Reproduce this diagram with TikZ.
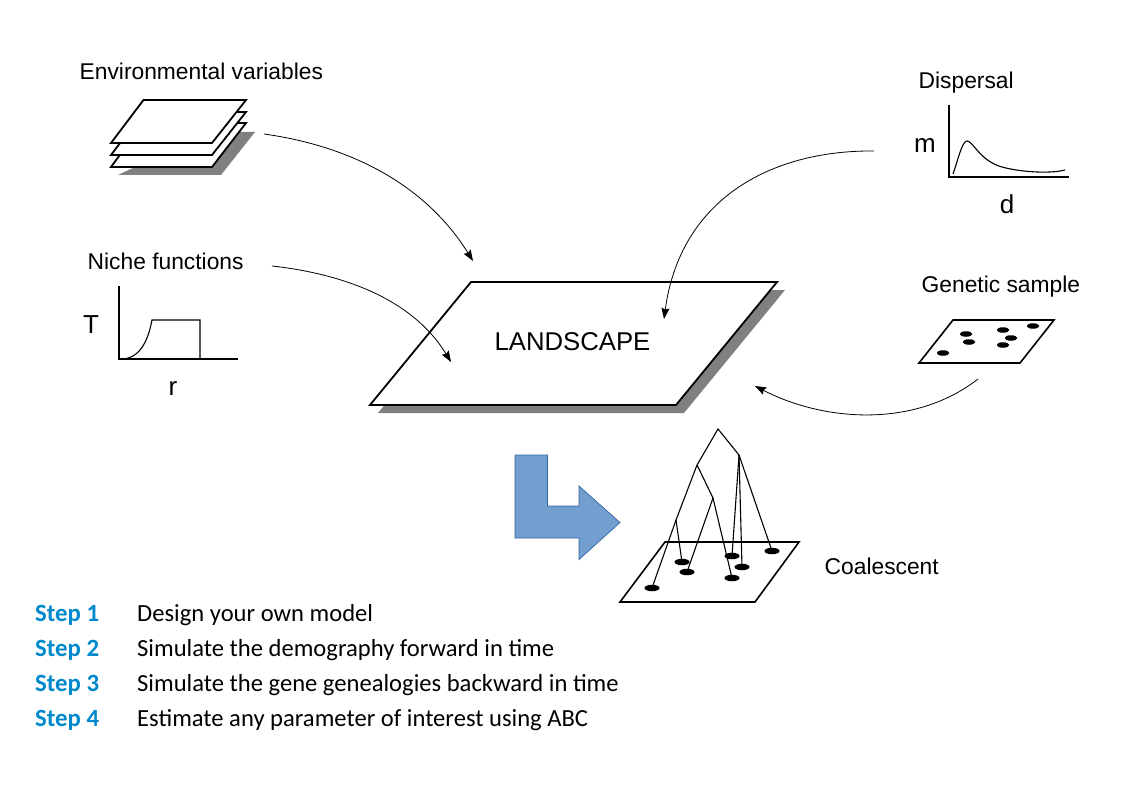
\documentclass[tikz,border=0pt]{standalone}
\usepackage{fontspec}
\setmainfont{Liberation Sans}
\newfontfamily\stepfont{Carlito}
\definecolor{stepblue}{HTML}{0088CC}
\definecolor{arrowblue}{HTML}{729FCF}
\definecolor{arrowedge}{HTML}{3465A4}
\definecolor{shadowgrey}{HTML}{808080}
\usetikzlibrary{arrows.meta,shapes.geometric}
\tikzset{
  x=1pt,y=-1pt,
  lbl/.style={anchor=base west,inner sep=0pt,font=\fontsize{22.8}{26}\selectfont,text=black},
  axislbl/.style={anchor=base,inner sep=0pt,font=\fontsize{26}{30}\selectfont,text=black},
  steplbl/.style={anchor=base west,inner sep=0pt,font=\stepfont\bfseries\fontsize{24.8}{28}\selectfont,text=stepblue},
  steptxt/.style={anchor=base west,inner sep=0pt,font=\stepfont\fontsize{24.6}{28}\selectfont,text=black},
  sheet/.style={draw=black,fill=white,line width=1.8pt,line join=miter},
  shadow/.style={fill=shadowgrey,draw=none},
  axis/.style={draw=black,line width=1.6pt},
  thin curve/.style={draw=black,line width=1.1pt},
  flow/.style={draw=black,line width=0.8pt,-{Stealth[length=11pt,width=8pt,inset=1.5pt]}},
  branch/.style={draw=black,line width=1.1pt},
  dot/.style={ellipse,fill=black,draw=none,minimum width=15pt,minimum height=6.5pt,inner sep=0pt},
}
\begin{document}
\begin{tikzpicture}
\useasboundingbox (0,0) rectangle (1123,794);
% stack of sheets
\fill[shadow] (118,175) -- (221,175) -- (255,132) -- (240,132) -- (150,160) -- cycle;
\draw[sheet] (143.5,123) -- (246,123) -- (212,167) -- (111,167) -- cycle;
\draw[sheet] (143.5,112) -- (246,112) -- (212,155) -- (111,155) -- cycle;
\draw[sheet] (143.5,100) -- (246,100) -- (212,143) -- (111,143) -- cycle;
% landscape
\fill[shadow] (479,290) -- (785,290) -- (684,413) -- (378,413) -- cycle;
\draw[sheet] (471,282) -- (777,282) -- (676,405) -- (370,405) -- cycle;
\node[anchor=base,inner sep=0pt,font=\fontsize{25.7}{30}\selectfont,text=black] (land) at (572.5,350) {LANDSCAPE};
% labels
\node[lbl] (env) at (79.5,80) {Environmental variables};
\node[lbl] (niche) at (87.5,269) {Niche functions};
\node[lbl] (disp) at (918.5,89) {Dispersal};
\node[lbl] (gen) at (921.5,292) {Genetic sample};
\node[lbl] (coal) at (824.5,574) {Coalescent};
\node[axislbl] (T) at (91,333) {T};
\node[axislbl] (r) at (173,395) {r};
\node[axislbl] (m) at (925,153) {m};
\node[axislbl] (d) at (1007,214) {d};
% niche chart
\coordinate (na) at (119,286);
\coordinate (nb) at (119,359);
\coordinate (nc) at (238,359);
\draw[axis] (na) -- (nb) -- (nc);
\draw[thin curve] (nb) .. controls (136,360) and (147,347) .. (152,320) -- (200,320) -- (200,359);
% dispersal chart
\coordinate (da) at (949,105);
\coordinate (db) at (949,177);
\coordinate (dc) at (1069,177);
\draw[axis] (da) -- (db) -- (dc);
\draw[thin curve] (953,174) .. controls (958,160) and (962,141) .. (967,141)
  .. controls (973,141) and (980,161) .. (1002,167)
  .. controls (1020,172) and (1050,174) .. (1065,170);
% genetic sample
\draw[sheet,line width=1.6pt] (953,320) -- (1054,320) -- (1020,363) -- (919,363) -- cycle;
\foreach \n/\p in {a/{966,334},b/{969,342},c/{943,353},e/{1003,330},f/{1033,326},g/{1011,338},h/{1003,345}}{
  \node[dot,minimum width=12.5pt,minimum height=5.5pt] (s\n) at (\p) {};
}
% curved connectors
\coordinate (envs) at (264,134);
\coordinate (envt) at (473,261);
\coordinate (nics) at (272,266);
\coordinate (nict) at (451,362);
\coordinate (diss) at (874,151);
\coordinate (dist) at (664,319);
\coordinate (gens) at (978,379);
\coordinate (gent) at (755,386);
\draw[flow] (envs) .. controls (350,146) and (425,184) .. (envt);
\draw[flow] (nics) .. controls (335,273) and (410,295) .. (nict);
\draw[flow] (diss) .. controls (770,150) and (680,200) .. (dist);
\draw[flow] (gens) .. controls (915,428) and (825,422) .. (gent);
% big arrow
\draw[draw=arrowedge,fill=arrowblue,line width=0.7pt] (515,455) -- (547.5,455) -- (547.5,506) -- (579,506) -- (579,486) -- (620,522.5) -- (579,559.5) -- (579,538) -- (515,538) -- cycle;
% coalescent plane
\draw[sheet,line width=1.6pt] (665,542) -- (799,542) -- (755,602) -- (620,602) -- cycle;
\node[dot] (c1) at (652,588) {};
\node[dot] (c2) at (682,562) {};
\node[dot] (c3) at (687,572) {};
\node[dot] (c4) at (732,556) {};
\node[dot] (c5) at (732,578) {};
\node[dot] (c6) at (742,567) {};
\node[dot] (c7) at (772,551) {};
\coordinate (root) at (718,429);
\coordinate (rgt) at (739,455);
\coordinate (lft) at (697,465);
\coordinate (mid) at (713,498);
\coordinate (low) at (676,520);
\draw[branch] (low) -- (lft) -- (root) -- (rgt);
\draw[branch] (lft) -- (mid);
\draw[branch] (low) -- (c1.center);
\draw[branch] (low) -- (c2.center);
\draw[branch] (mid) -- (c3.center);
\draw[branch] (mid) -- (c5.center);
\draw[branch] (rgt) -- (c4.center);
\draw[branch] (rgt) -- (c6.center);
\draw[branch] (rgt) -- (c7.center);
% steps
\node[steplbl] (s1) at (35,621) {Step 1};
\node[steplbl] (s2) at (35,656) {Step 2};
\node[steplbl] (s3) at (35,691) {Step 3};
\node[steplbl] (s4) at (35,726) {Step 4};
\node[steptxt] (t1) at (137,621) {Design your own model};
\node[steptxt] (t2) at (137,656) {Simulate the demography forward in time};
\node[steptxt] (t3) at (137,691) {Simulate the gene genealogies backward in time};
\node[steptxt] (t4) at (137,726) {Estimate any parameter of interest using ABC};
\end{tikzpicture}
\end{document}
